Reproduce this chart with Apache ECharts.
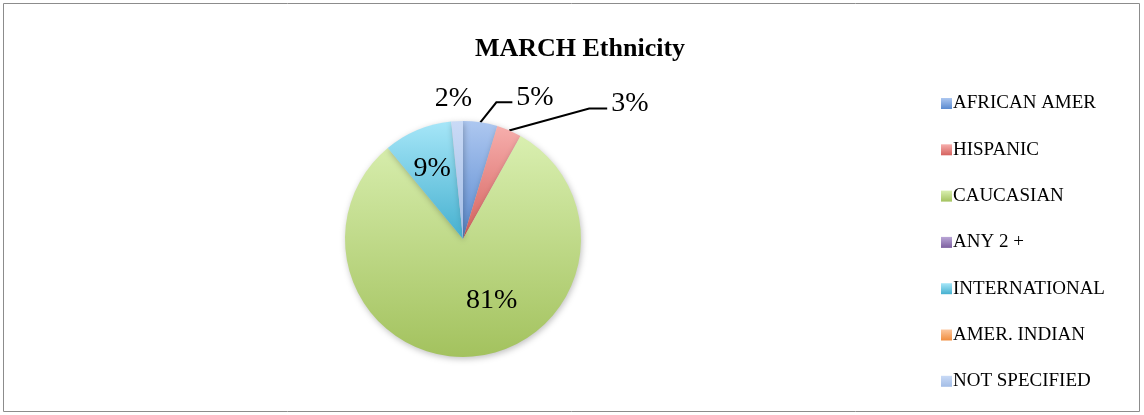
<!DOCTYPE html>
<html>
<head>
<meta charset="utf-8">
<script src="https://cdn.jsdelivr.net/npm/echarts@6/dist/echarts.min.js"></script>
<style>
  html, body { margin: 0; padding: 0; background: #fff; }
  #chart { width: 1144px; height: 415px; }
</style>
</head>
<body>
<div id="chart"></div>
<script>
// chart data
const categories = ['AFRICAN AMER', 'HISPANIC', 'CAUCASIAN', 'ANY 2 +', 'INTERNATIONAL', 'AMER. INDIAN', 'NOT SPECIFIED']
const shares = [4.7, 3.4, 80.9, 0, 9.4, 0, 1.6]
const labelInside = [false, false, true, false, true, false, false]
const showLine = [true, true, false, false, false, false, false]

// leader line shape (elbow offset from slice edge, then flat part) and label nudges,
// so labels sit roughly where excel's best fit put them
const lineElbow = [[16, -20], [80, -22], null, null, null, null, null]
const lineFlat = [16, 18, 0, 0, 0, 0, 0]
const labelNudge = [[0, 0], [0, 0], [23, 0], [0, 0], [-7, -13], [0, 0], [21, -3]]

// light top / dark bottom, excel 2007 look
const topColors = ['#adc7f0', '#f6aeac', '#d9efb0', '#b9a6d6', '#a6e6f8', '#fcc79e', '#c9daf6']
const bottomColors = ['#5b8bd0', '#d5625e', '#a3c25e', '#7d60a0', '#45b0cf', '#f08d3e', '#a3bde6']

const serif = '"Liberation Serif", "Times New Roman", serif'

function grad(i) {
  return new echarts.graphic.LinearGradient(0, 0, 0, 1, [
    { offset: 0, color: topColors[i] },
    { offset: 1, color: bottomColors[i] }
  ])
}

const pieData = categories.map((name, i) => ({
  name: name,
  value: shares[i],
  itemStyle: { color: grad(i) },
  label: {
    show: shares[i] > 0,
    position: labelInside[i] ? 'inside' : 'outside'
  },
  labelLine: { show: showLine[i], length: 20, length2: 0 }
}))

const chart = echarts.init(document.getElementById('chart'), null, { renderer: 'canvas' })

chart.setOption({
  animation: false,
  backgroundColor: '#fff',
  title: {
    text: 'MARCH Ethnicity',
    left: 575,
    top: 31,
    textAlign: 'center',
    textStyle: { fontFamily: serif, fontSize: 26, fontWeight: 'bold', color: '#000' }
  },
  graphic: [{
    type: 'rect',
    shape: { x: 3.5, y: 3.5, width: 1136, height: 408 },
    style: { fill: 'none', stroke: '#8c8c8c', lineWidth: 1 },
    silent: true
  }],
  legend: {
    orient: 'vertical',
    left: 936,
    top: 89,
    icon: 'rect',
    itemWidth: 11,
    itemHeight: 11,
    itemGap: 27.3,
    textStyle: { fontFamily: serif, fontSize: 19, color: '#000', padding: [0, 0, 0, -4], lineHeight: 19 },
    data: categories
  },
  series: [{
    type: 'pie',
    center: [463, 239],
    radius: 118,
    startAngle: 90,
    clockwise: true,
    avoidLabelOverlap: false,
    itemStyle: {
      shadowBlur: 6,
      shadowColor: 'rgba(0,0,0,0.25)',
      shadowOffsetX: 1,
      shadowOffsetY: 2
    },
    label: {
      fontFamily: serif,
      fontSize: 28,
      color: '#000',
      formatter: p => Math.round(p.percent) + '%'
    },
    labelLine: {
      lineStyle: { color: '#000', width: 2 }
    },
    labelLayout: p => {
      const i = p.dataIndex
      if (showLine[i] && lineElbow[i] && p.labelLinePoints) {
        const s = p.labelLinePoints[0]
        const elbow = [s[0] + lineElbow[i][0], s[1] + lineElbow[i][1]]
        const end = [elbow[0] + lineFlat[i], elbow[1]]
        return { x: end[0] + 4, y: end[1] - 5, labelLinePoints: [s, elbow, end] }
      }
      return { dx: labelNudge[i][0], dy: labelNudge[i][1] }
    },
    emphasis: { disabled: true },
    data: pieData
  }]
})

window.onresize = function () {
  chart.resize()
}
</script>
</body>
</html>
